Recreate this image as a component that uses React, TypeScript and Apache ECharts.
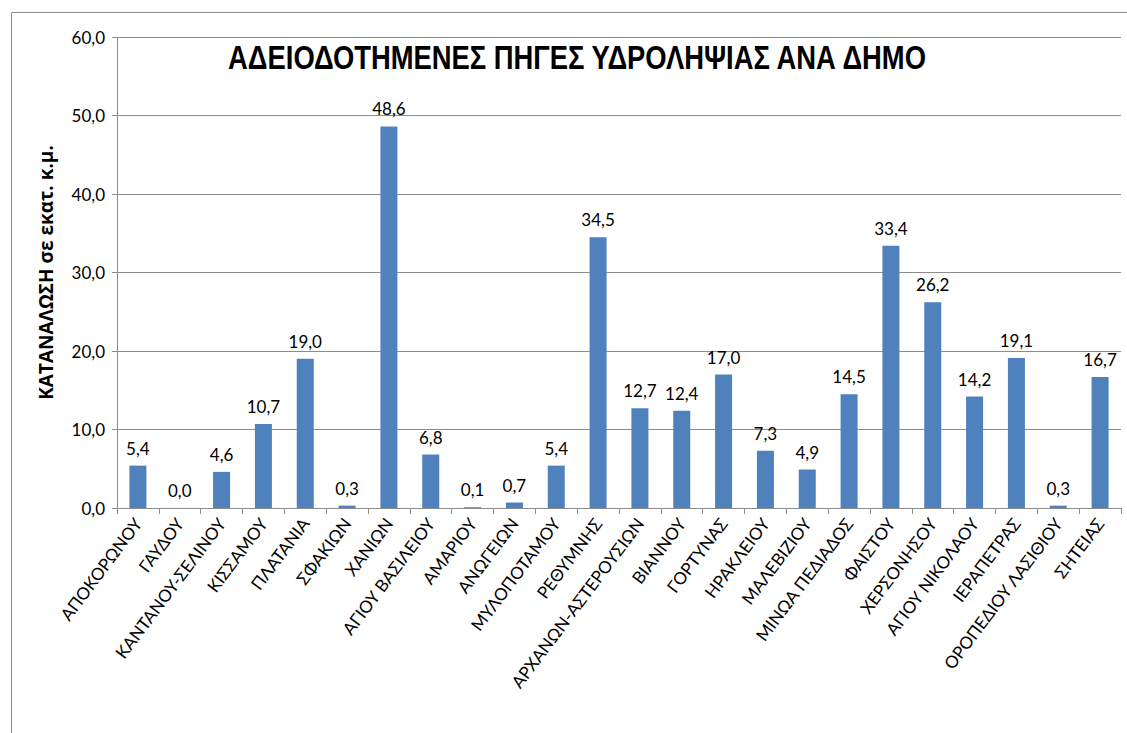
import React, { useEffect, useRef } from "react";
import * as echarts from "echarts";

const categories: string[] = [
  "ΑΠΟΚΟΡΩΝΟΥ", "ΓΑΥΔΟΥ", "ΚΑΝΤΑΝΟΥ-ΣΕΛΙΝΟΥ", "ΚΙΣΣΑΜΟΥ", "ΠΛΑΤΑΝΙΑ", "ΣΦΑΚΙΩΝ",
  "ΧΑΝΙΩΝ", "ΑΓΙΟΥ ΒΑΣΙΛΕΙΟΥ", "ΑΜΑΡΙΟΥ", "ΑΝΩΓΕΙΩΝ", "ΜΥΛΟΠΟΤΑΜΟΥ", "ΡΕΘΥΜΝΗΣ",
  "ΑΡΧΑΝΩΝ-ΑΣΤΕΡΟΥΣΙΩΝ", "ΒΙΑΝΝΟΥ", "ΓΟΡΤΥΝΑΣ", "ΗΡΑΚΛΕΙΟΥ", "ΜΑΛΕΒΙΖΙΟΥ", "ΜΙΝΩΑ ΠΕΔΙΑΔΟΣ",
  "ΦΑΙΣΤΟΥ", "ΧΕΡΣΟΝΗΣΟΥ", "ΑΓΙΟΥ ΝΙΚΟΛΑΟΥ", "ΙΕΡΑΠΕΤΡΑΣ", "ΟΡΟΠΕΔΙΟΥ ΛΑΣΙΘΙΟΥ", "ΣΗΤΕΙΑΣ",
];

const values: number[] = [
  5.4, 0.0, 4.6, 10.7, 19.0, 0.3, 48.6, 6.8, 0.1, 0.7, 5.4, 34.5,
  12.7, 12.4, 17.0, 7.3, 4.9, 14.5, 33.4, 26.2, 14.2, 19.1, 0.3, 16.7,
];

const titleText = "ΑΔΕΙΟΔΟΤΗΜΕΝΕΣ ΠΗΓΕΣ ΥΔΡΟΛΗΨΙΑΣ ΑΝΑ ΔΗΜΟ";
const yAxisName = "ΚΑΤΑΝΑΛΩΣΗ σε εκατ. κ.μ.";

const fmt = (v: number) => v.toFixed(1).replace(".", ",");

export default function App() {
  const ref = useRef<HTMLDivElement>(null);
  useEffect(() => {
    if (!ref.current) return;
    const chart = echarts.init(ref.current, null, { renderer: "svg" });
    const font = "Lato, 'Open Sans', sans-serif";
    chart.setOption({
      animation: false,
      backgroundColor: "#ffffff",
      textStyle: { fontFamily: font },
      graphic: [
        {
          type: "rect",
          shape: { x: 11.5, y: 12.5, width: 1140, height: 740 },
          style: { fill: "none", stroke: "#8c8c8c", lineWidth: 1 },
          silent: true,
          z: 0,
        },
        {
          type: "text",
          x: 577,
          y: 58,
          scaleX: 0.83,
          style: {
            text: titleText,
            fill: "#000",
            font: "bold 33px 'Liberation Sans', Arial, sans-serif",
            textAlign: "center",
            textVerticalAlign: "middle",
          },
          z: 10,
        },
      ],
      grid: { left: 117, right: 6, top: 37, bottom: 225, containLabel: false },
      xAxis: {
        type: "category",
        data: categories,
        axisLine: { show: true, lineStyle: { color: "#8c8c8c", width: 1 } },
        axisTick: { show: true, alignWithLabel: false, length: 6, lineStyle: { color: "#8c8c8c" } },
        axisLabel: {
          interval: 0,
          rotate: 53,
          fontSize: 17,
          color: "#000",
          fontFamily: font,
          margin: 12,
        },
      },
      yAxis: {
        type: "value",
        min: 0,
        max: 60,
        interval: 10,
        name: yAxisName,
        nameLocation: "middle",
        nameGap: 62,
        nameRotate: 90,
        nameTextStyle: { fontSize: 19, fontWeight: "bold", color: "#000", fontFamily: "'Open Sans', sans-serif" },
        axisLine: { show: true, lineStyle: { color: "#8c8c8c", width: 1 } },
        axisTick: { show: true, length: 5, lineStyle: { color: "#8c8c8c" } },
        axisLabel: { formatter: (v: number) => fmt(v), fontSize: 17, color: "#000", fontFamily: font, margin: 12 },
        splitLine: { show: true, lineStyle: { color: "#8c8c8c", width: 1 } },
      },
      series: [
        {
          type: "bar",
          data: values,
          barWidth: 17,
          itemStyle: { color: "#4f81bd" },
          label: {
            show: true,
            position: "top",
            distance: 9,
            formatter: (p: any) => fmt(p.value),
            fontSize: 17,
            color: "#000",
            fontFamily: font,
          },
        },
      ],
    });
    return () => chart.dispose();
  }, []);
  return (
    <div
      ref={ref}
      style={{ position: "fixed", left: 0, top: 0, width: 1127, height: 733, background: "#fff" }}
    />
  );
}
